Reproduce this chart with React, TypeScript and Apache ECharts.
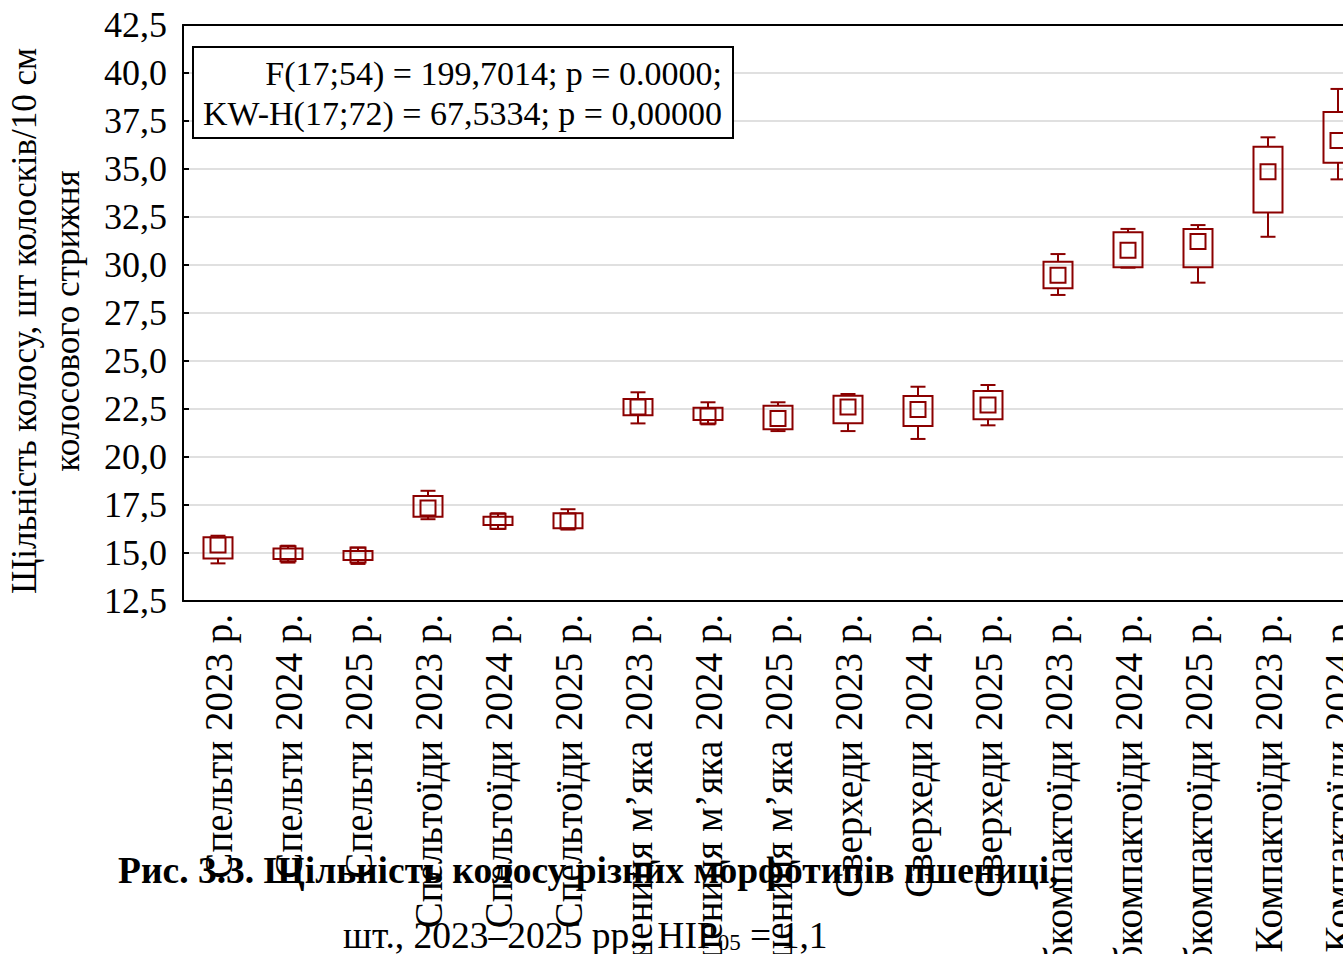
import React, { useEffect, useRef } from "react";
import * as echarts from "echarts";

const categories = [
  "Спельти 2023 р.",
  "Спельти 2024 р.",
  "Спельти 2025 р.",
  "Спельтоїди 2023 р.",
  "Спельтоїди 2024 р.",
  "Спельтоїди 2025 р.",
  "Пшениця м’яка 2023 р.",
  "Пшениця м’яка 2024 р.",
  "Пшениця м’яка 2025 р.",
  "Сверхеди 2023 р.",
  "Сверхеди 2024 р.",
  "Сверхеди 2025 р.",
  "Субкомпактоїди 2023 р.",
  "Субкомпактоїди 2024 р.",
  "Субкомпактоїди 2025 р.",
  "Компактоїди 2023 р.",
  "Компактоїди 2024 р.",
  "Компактоїди 2025 р.",
];

const minValues = [14.46, 14.5, 14.43, 16.76, 16.25, 16.22, 21.75, 21.7, 21.35, 21.35, 20.94, 21.65, 28.44, 29.86, 29.08, 31.47, 34.46, 34.2];
const q1Values = [14.72, 14.69, 14.64, 16.89, 16.46, 16.29, 22.17, 21.93, 21.44, 21.76, 21.61, 21.96, 28.79, 29.88, 29.88, 32.74, 35.33, 35.0];
const medianValues = [15.42, 14.96, 14.89, 17.35, 16.66, 16.67, 22.6, 22.13, 22.0, 22.6, 22.47, 22.71, 29.46, 30.77, 31.23, 34.86, 36.48, 36.0];
const q3Values = [15.82, 15.24, 15.1, 17.97, 16.89, 17.07, 23.02, 22.57, 22.67, 23.19, 23.18, 23.44, 30.17, 31.7, 31.88, 36.16, 37.97, 37.0];
const maxValues = [15.9, 15.38, 15.28, 18.24, 17.07, 17.28, 23.37, 22.85, 22.85, 23.28, 23.66, 23.75, 30.57, 31.88, 32.08, 36.65, 39.17, 38.0];

const yMin = 12.5;
const yMax = 42.5;
const yStep = 2.5;

const statLines = [
  "F(17;54) = 199,7014; p = 0.0000;",
  "KW-H(17;72) = 67,5334; p = 0,00000",
];
const yAxisTitle = "Щільність колосу, шт колосків/10 см\nколосового стрижня";
const captionLine1 = "Рис. 3.3. Щільність колосу різних морфотипів пшениці,";
const captionLine2a = "шт., 2023–2025 рр., НІР";
const captionLine2sub = "05";
const captionLine2b = " = 1,1";

const FONT = "'Liberation Serif', 'Times New Roman', serif";
const RED = "#8b0000";

export default function App() {
  const ref = useRef<HTMLDivElement>(null);

  useEffect(() => {
    if (!ref.current) return;
    const chart = echarts.init(ref.current, null, { renderer: "svg" });
    const data = categories.map((_, i) => [
      i,
      minValues[i],
      q1Values[i],
      medianValues[i],
      q3Values[i],
      maxValues[i],
    ]);

    const renderItem = (params: any, api: any) => {
      const x = api.value(0);
      const pMin = api.coord([x, api.value(1)]);
      const pQ1 = api.coord([x, api.value(2)]);
      const pMed = api.coord([x, api.value(3)]);
      const pQ3 = api.coord([x, api.value(4)]);
      const pMax = api.coord([x, api.value(5)]);
      const cx = pMed[0];
      const st = { stroke: RED, lineWidth: 2, fill: "none" };
      const boxHalf = 14.5;
      const capHalf = 7.5;
      const sq = 7.5;
      return {
        type: "group",
        children: [
          { type: "line", shape: { x1: cx, y1: pMax[1], x2: cx, y2: pQ3[1] }, style: st },
          { type: "line", shape: { x1: cx, y1: pQ1[1], x2: cx, y2: pMin[1] }, style: st },
          { type: "line", shape: { x1: cx - capHalf, y1: pMax[1], x2: cx + capHalf, y2: pMax[1] }, style: st },
          { type: "line", shape: { x1: cx - capHalf, y1: pMin[1], x2: cx + capHalf, y2: pMin[1] }, style: st },
          {
            type: "rect",
            shape: { x: cx - boxHalf, y: pQ3[1], width: boxHalf * 2, height: pQ1[1] - pQ3[1] },
            style: st,
          },
          {
            type: "rect",
            shape: { x: cx - sq, y: pMed[1] - sq, width: sq * 2, height: sq * 2 },
            style: st,
          },
        ],
      };
    };

    chart.setOption({
      animation: false,
      backgroundColor: "#ffffff",
      textStyle: { fontFamily: FONT, color: "#000" },
      grid: { left: 183, top: 25, width: 1260, height: 576, outerBoundsMode: "none", containLabel: false },
      xAxis: [
        {
          type: "category",
          data: categories,
          position: "bottom",
          boundaryGap: true,
          axisLine: { lineStyle: { color: "#000", width: 2 } },
          axisTick: { inside: true, length: 6, alignWithLabel: true, lineStyle: { color: "#000", width: 2 } },
          axisLabel: {
            interval: 0,
            rotate: 90,
            margin: 13,
            fontSize: 39,
            fontFamily: FONT,
            color: "#000",
          },
          splitLine: { show: false },
        },
        {
          type: "category",
          data: categories,
          position: "top",
          boundaryGap: true,
          axisLine: { lineStyle: { color: "#000", width: 2 } },
          axisTick: { inside: true, length: 6, alignWithLabel: true, lineStyle: { color: "#000", width: 2 } },
          axisLabel: { show: false },
          splitLine: { show: false },
        },
      ],
      yAxis: {
        type: "value",
        min: yMin,
        max: yMax,
        interval: yStep,
        name: yAxisTitle,
        nameLocation: "middle",
        nameRotate: 90,
        nameGap: 94,
        nameTextStyle: { fontSize: 35, fontFamily: FONT, color: "#000", lineHeight: 43, padding: [0, 16, 0, 0] },
        axisLine: { show: true, lineStyle: { color: "#000", width: 2 } },
        axisTick: { show: true, inside: true, length: 6, lineStyle: { color: "#000", width: 2 } },
        axisLabel: {
          margin: 16,
          fontSize: 36,
          fontFamily: FONT,
          color: "#000",
          formatter: (v: number) => v.toFixed(1).replace(".", ","),
        },
        splitLine: { show: true, lineStyle: { color: "#e0e0e0", width: 2 } },
      },
      series: [
        {
          type: "custom",
          renderItem,
          data,
          encode: { x: 0, y: [1, 2, 3, 4, 5] },
          clip: false,
          z: 5,
        },
      ],
      graphic: [
        {
          type: "rect",
          z: 50,
          zlevel: 1,
          shape: { x: 193, y: 47, width: 540, height: 91 },
          style: { fill: "#fff", stroke: "#000", lineWidth: 2 },
        },
        {
          type: "text",
          z: 51,
          zlevel: 1,
          x: 722,
          y: 73,
          style: {
            text: statLines[0],
            font: `34px ${FONT}`,
            fill: "#000",
            textAlign: "right",
            textVerticalAlign: "middle",
          },
        },
        {
          type: "text",
          z: 51,
          zlevel: 1,
          x: 722,
          y: 113,
          style: {
            text: statLines[1],
            font: `34px ${FONT}`,
            fill: "#000",
            textAlign: "right",
            textVerticalAlign: "middle",
          },
        },
        {
          type: "text",
          z: 100,
          zlevel: 1,
          x: 118,
          y: 870,
          style: {
            text: captionLine1,
            font: `bold 37.5px ${FONT}`,
            fill: "#000",
            textAlign: "left",
            textVerticalAlign: "middle",
          },
        },
        {
          type: "text",
          z: 100,
          zlevel: 1,
          x: 343,
          y: 933,
          style: {
            text: `{a|${captionLine2a}}{s|${captionLine2sub}}{a|${captionLine2b}}`,
            fill: "#000",
            textAlign: "left",
            textVerticalAlign: "middle",
            rich: {
              a: { fontSize: 37.5, fontFamily: FONT, color: "#000", verticalAlign: "bottom", lineHeight: 42 },
              s: { fontSize: 23, fontFamily: FONT, color: "#000", verticalAlign: "bottom", lineHeight: 34 },
            },
          },
        },
      ],
    });
    return () => chart.dispose();
  }, []);

  return (
    <div
      ref={ref}
      style={{ position: "fixed", left: 0, top: 0, width: 1500, height: 1100, background: "#fff" }}
    />
  );
}
